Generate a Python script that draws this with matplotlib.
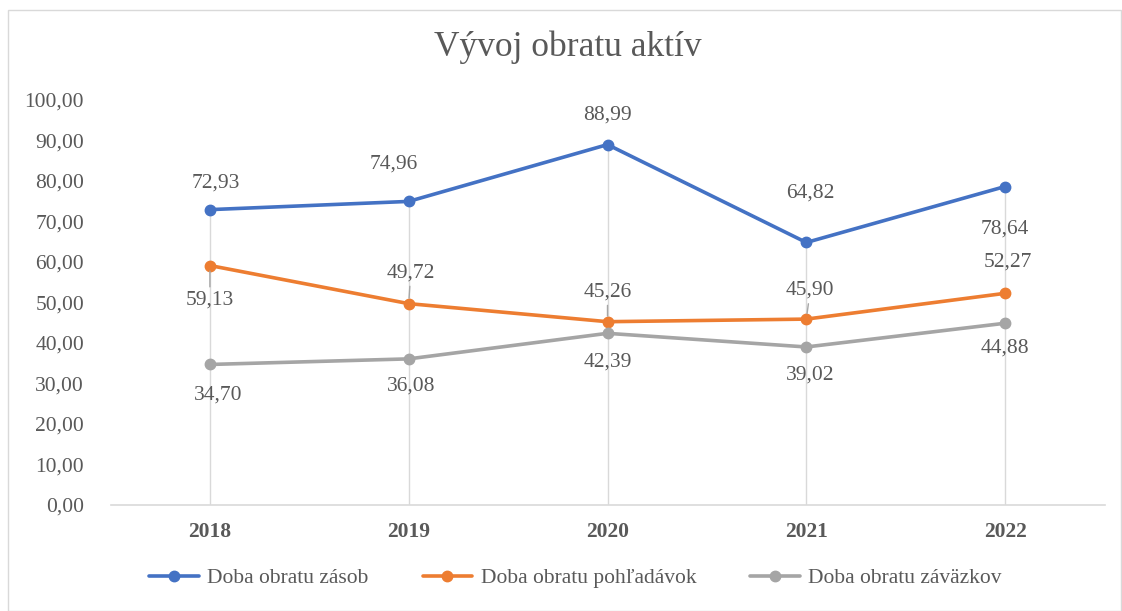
import matplotlib.pyplot as plt
from matplotlib.patches import Rectangle
import matplotlib
matplotlib.rc('font', family='Liberation Serif')

years = ['2018', '2019', '2020', '2021', '2022']
zasob = [72.93, 74.96, 88.99, 64.82, 78.64]
pohladavok = [59.13, 49.72, 45.26, 45.90, 52.27]
zavazkov = [34.70, 36.08, 42.39, 39.02, 44.88]
names = ['Doba obratu zásob', 'Doba obratu pohľadávok', 'Doba obratu záväzkov']
yticks = [0, 10, 20, 30, 40, 50, 60, 70, 80, 90, 100]

colors = ['#4472C4', '#ED7D31', '#A5A5A5']
txt = '#595959'
grid = '#D9D9D9'

# label offsets in pixels (dx, dy up), and whether a leader line is drawn
offs = [
    [(6, 27), (-15, 37), (0, 30), (4, 49), (0, -43)],
    [(0, -35), (2, 31), (0, 30), (4, 29), (3, 31)],
    [(8, -31), (2, -27), (0, -29), (4, -28), (0, -25)],
]
leaders = [
    [False] * 5,
    [True, True, True, True, False],
    [False] * 5,
]

fig = plt.figure(figsize=(11.22, 6.11), dpi=100)
fig.patches.append(Rectangle((8 / 1122, 0), 1 - 9 / 1122, 1 - 10 / 611,
                             transform=fig.transFigure, fill=False,
                             edgecolor=grid, linewidth=1))
ax = fig.add_axes([110.5 / 1122, 106 / 611, 994 / 1122, 405 / 611])

x = range(len(years))
series = [zasob, pohladavok, zavazkov]

tops = [max(v) for v in zip(*series)]
ax.vlines(x, 0, tops, color=grid, linewidth=1, zorder=1)

for vals, c, name, off, lead in zip(series, colors, names, offs, leaders):
    ax.plot(x, vals, color=c, linewidth=2.6, marker='o', markersize=7.5,
            label=name, zorder=3, solid_capstyle='round')
    for i, v in enumerate(vals):
        dx, dy = off[i]
        kw = {}
        if lead[i]:
            kw['arrowprops'] = dict(arrowstyle='-', color='#A6A6A6', lw=1,
                                    shrinkA=1, shrinkB=4)
        ax.annotate(f'{v:.2f}'.replace('.', ','), (i, v),
                    xytext=(dx * 0.72, dy * 0.72), textcoords='offset points',
                    ha='center', va='center', fontsize=15.5, color=txt,
                    zorder=4, **kw)

ax.set_xlim(-0.5, len(years) - 0.5)
ax.set_ylim(0, 100)
ax.set_yticks(yticks)
ax.set_yticklabels([f'{t},00' for t in yticks], fontsize=15.5, color=txt)
ax.set_xticks(list(x))
ax.set_xticklabels(years, fontsize=15.5, color=txt, fontweight='bold')
ax.tick_params(axis='y', length=0, pad=19)
ax.tick_params(axis='x', length=0, pad=12)
for s in ['top', 'right', 'left']:
    ax.spines[s].set_visible(False)
ax.spines['bottom'].set_color(grid)
ax.spines['bottom'].set_linewidth(1.2)

fig.text(0.506, 1 - 47 / 611, 'Vývoj obratu aktív', ha='center', va='center',
         fontsize=25.5, color=txt)

fig.legend(loc='center', bbox_to_anchor=(0.513, 1 - 578 / 611), ncol=3,
           frameon=False, fontsize=15.5, handlelength=2.3, columnspacing=2.5,
           handletextpad=0.4, labelcolor=txt)

fig.savefig('out.png', dpi=100)
